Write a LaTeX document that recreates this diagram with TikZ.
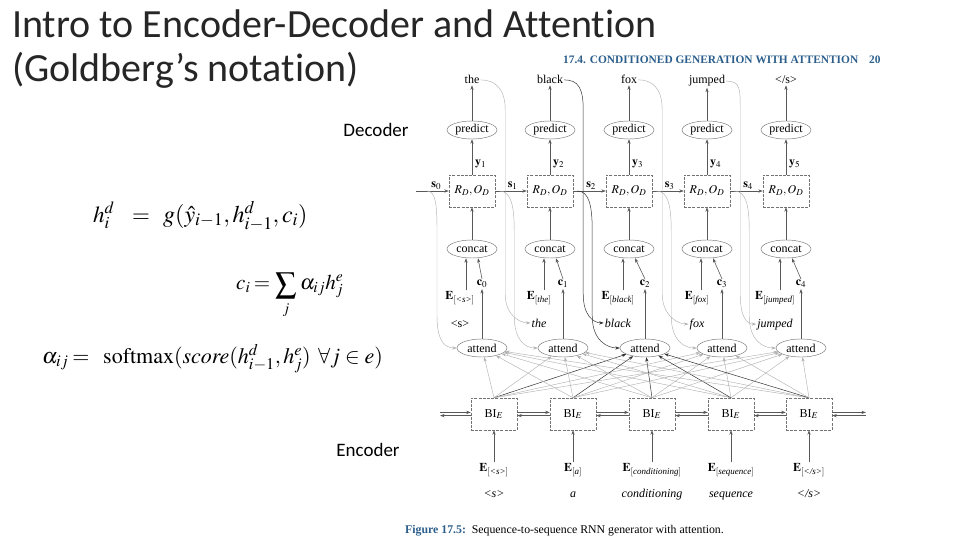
\documentclass[tikz,border=0pt]{standalone}
\usepackage{amsmath}
\usepackage{mathptmx}
\usepackage{fontspec}
\setmainfont{Liberation Serif}
\newfontfamily\slidefont[Ligatures=NoCommon]{Carlito}
\usetikzlibrary{arrows.meta,shapes.geometric,calc}
\definecolor{bookblue}{HTML}{2B5E8C}
\def\sostok{\textless s\textgreater}
\def\eostok{\textless/s\textgreater}
\begin{document}
\begin{tikzpicture}[x=1pt,y=-1pt,
  figtxt/.style={font=\fontsize{12}{13}\selectfont, inner sep=1pt},
  wordtxt/.style={font=\fontsize{12}{13}\selectfont, inner sep=1pt, anchor=base},
  oval/.style={ellipse, draw=black!55, line width=0.45pt, minimum width=50pt, minimum height=18pt, inner sep=0pt, font=\fontsize{12}{13}\selectfont},
  cell/.style={draw=black!55, dash pattern=on 3pt off 1.2pt, line width=0.45pt, minimum width=46pt, minimum height=32pt, inner sep=0pt, font=\fontsize{12}{13}\selectfont},
  tip/.style={-{Stealth[length=4.5pt,width=3.2pt]}},
  flow/.style={tip, draw=black!65, line width=0.6pt},
  faint/.style={tip, draw=black!30, line width=0.45pt},
  strong/.style={tip, draw=black!80, line width=0.5pt},
  eqn/.style={anchor=base west, inner sep=0pt, font=\fontsize{23}{27}\selectfont},
  eqeq/.style={anchor=base, inner sep=0pt, font=\fontsize{23}{27}\selectfont},
  slide/.style={font=\slidefont\fontsize{19}{23}\selectfont, inner sep=0pt},
  titletxt/.style={anchor=base west, inner sep=0pt, font=\slidefont\fontsize{40}{44}\selectfont, text=black!85},
  booktxt/.style={anchor=base west, inner sep=0pt, font=\bfseries\fontsize{11.4}{13}\selectfont, text=bookblue},
]
\useasboundingbox (0,0) rectangle (960,540);

% ---------- slide title and labels ----------
\node[titletxt] (title1) at (12,38) {Intro to Encoder-Decoder and Attention};
\node[titletxt] (title2) at (12,82) {(Goldberg’s notation)};
\node[slide] (declab) at (376,130) {Decoder};
\node[slide] (enclab) at (368,450) {Encoder};

% ---------- equations ----------
\node[eqn] (eq1l) at (93,222) {$h_i^d$};
\node[eqeq] (eq1e) at (141,222) {$=$};
\node[eqn, font=\fontsize{24}{28}\selectfont] (eq1r) at (163,222) {$g(\hat{y}_{i-1}, h^d_{i-1}, c_i)$};

\node[eqn, font=\fontsize{21}{25}\selectfont] (eq2l) at (236,289) {$c_i$};
\node[eqeq, font=\fontsize{21}{25}\selectfont] (eq2e) at (262,289) {$=$};
\node[eqeq, font=\fontsize{21}{25}\selectfont] (eq2s) at (286,291) {$\displaystyle\sum$};
\node[eqeq, font=\fontsize{15}{17}\selectfont] (eq2j) at (286,313) {$j$};
\node[eqn, font=\fontsize{21}{25}\selectfont] (eq2r) at (300,289) {$\alpha_{ij} h^e_j$};

\node[eqn, font=\fontsize{22}{26}\selectfont] (eq3l) at (42,363) {$\alpha_{ij}$};
\node[eqeq, font=\fontsize{22}{26}\selectfont] (eq3e) at (81,363) {$=$};
\node[eqn, font=\fontsize{22}{26}\selectfont] (eq3r) at (103,363) {$\mathrm{softmax}(\mathit{score}(h^d_{i-1}, h^e_j)\;\, \forall j \in e)$};

% ---------- book page header and caption ----------
\node[booktxt] (hdr) at (563,64) {17.4. CONDITIONED GENERATION WITH ATTENTION};
\node[booktxt] (pgno) at (869,64) {20};
\node[anchor=base west, inner sep=0pt, font=\fontsize{11.8}{13}\selectfont] (caption) at (405,533) {{\bfseries\color{bookblue}Figure 17.5:}\enspace Sequence-to-sequence RNN generator with attention.};

% ---------- decoder columns ----------
\foreach \i/\x/\w in {0/472/the, 1/550/black, 2/629/fox, 3/707/jumped, 4/786/\eostok}{
  \node[wordtxt] (tw\i) at (\x,84) {\w};
  \node[oval] (pr\i) at (\x,130) {predict};
  \node[cell] (rd\i) at (\x,191) {$R_D, O_D$};
  \node[oval] (cc\i) at (\x,249) {concat};
  \pgfmathtruncatemacro\k{\i+1}
  \node[figtxt, anchor=west] (yl\i) at (\x+2,164) {$\mathbf{y}_{\k}$};
  \draw[flow] (pr\i) -- (tw\i);
  \draw[flow] (rd\i) -- (pr\i);
  \draw[flow] (cc\i) -- (rd\i);
}

% ---------- attention columns ----------
\foreach \i/\xw/\xa/\e in {0/460/482/\sostok, 1/539/563/the, 2/618/645/black, 3/697/722/fox, 4/775/801/jumped}{
  \node[figtxt] (ed\i) at (\xw,298) {$\mathbf{E}_{[\textit{\e}]}$};
  \node[oval] (at\i) at (\xa,348) {attend};
  \node[figtxt] (cl\i) at (\xa,284) {$\mathbf{c}_{\i}$};
  \draw[flow] (at\i) -- (cl\i);
  \draw[flow] ($(cc\i.south |- ed\i.north)+(-6,0)$) -- ($(cc\i.south)+(-6,0)$);
  \draw[flow] (cl\i.north) -- ($(cc\i.south)+(6,0)$);
}
\node[wordtxt] (iw0) at (460,327) {\sostok};
\node[wordtxt] (iw1) at (539,327) {\textit{the}};
\node[wordtxt] (iw2) at (618,327) {\textit{black}};
\node[wordtxt] (iw3) at (697,327) {\textit{fox}};
\node[wordtxt] (iw4) at (775,327) {\textit{jumped}};

% ---------- decoder states ----------
\coordinate (s0in) at (416,191);
\draw[flow] (s0in) -- (rd0.west) node[pos=0.62, above, figtxt] (sl0) {$\mathbf{s}_0$};
\foreach \h/\i in {0/1,1/2,2/3,3/4}{
  \draw[flow] (rd\h.east) -- (rd\i.west) node[pos=0.55, above, figtxt] (sl\i) {$\mathbf{s}_{\i}$};
}

% state branches into attend
\draw[faint] ($(s0in)+(11,0)$) .. controls +(9,0) and +(0,-25) .. ($(s0in)+(21,40)$) -- ($(s0in)+(21,125)$) .. controls +(0,25) and +(-12,0) .. (at0.west);
\foreach \h/\i/\st in {0/1/faint,1/2/strong,2/3/faint,3/4/faint}{
  \draw[\st] ($(rd\h.east)+(4,0)$) .. controls +(12,0) and +(0,-25) .. ($(rd\h.east)+(19,40)$) -- ($(rd\h.east)+(19,125)$) .. controls +(0,25) and +(-12,0) .. (at\i.west);
}
% generated words fed back
\foreach \h/\i/\st in {0/1/faint,1/2/strong,2/3/faint,3/4/faint}{
  \draw[\st] (tw\h.east) .. controls +(14,0) and +(0,-22) .. ($(rd\h.east)+(10,-81)$) -- ($(rd\h.east)+(10,103)$) .. controls +(0,22) and +(-10,0) .. (iw\i.west);
}

% ---------- encoder ----------
\foreach \i/\x/\e in {0/494/\sostok, 1/573/a, 2/652/conditioning, 3/731/sequence, 4/809/\eostok}{
  \node[cell] (bi\i) at (\x,414) {BI$_E$};
  \node[figtxt] (be\i) at (\x,470) {$\mathbf{E}_{[\textit{\e}]}$};
  \node[wordtxt] (bw\i) at (\x,497) {\textit{\e}};
  \draw[flow] (be\i) -- (bi\i);
}

% attention weights: every encoder state to every attend
\foreach \j in {0,...,4}{
  \foreach \i in {0,...,4}{
    \ifnum\i=2
      \draw[strong] (bi\j.north) -- (at\i);
    \else
      \draw[faint] (bi\j.north) -- (at\i);
    \fi
  }
}

% bidirectional links
\coordinate (inL) at (440,414);
\coordinate (inR) at (866,414);
\draw[flow] ([yshift=1.6pt]inL) -- ([yshift=1.6pt]bi0.west);
\draw[flow] ([yshift=-1.6pt]bi0.west) -- ([yshift=-1.6pt]inL);
\foreach \h/\i in {0/1,1/2,2/3,3/4}{
  \draw[flow] ([yshift=1.6pt]bi\h.east) -- ([yshift=1.6pt]bi\i.west);
  \draw[flow] ([yshift=-1.6pt]bi\i.west) -- ([yshift=-1.6pt]bi\h.east);
}
\draw[flow] ([yshift=1.6pt]bi4.east) -- ([yshift=1.6pt]inR);
\draw[flow] ([yshift=-1.6pt]inR) -- ([yshift=-1.6pt]bi4.east);
\end{tikzpicture}
\end{document}
